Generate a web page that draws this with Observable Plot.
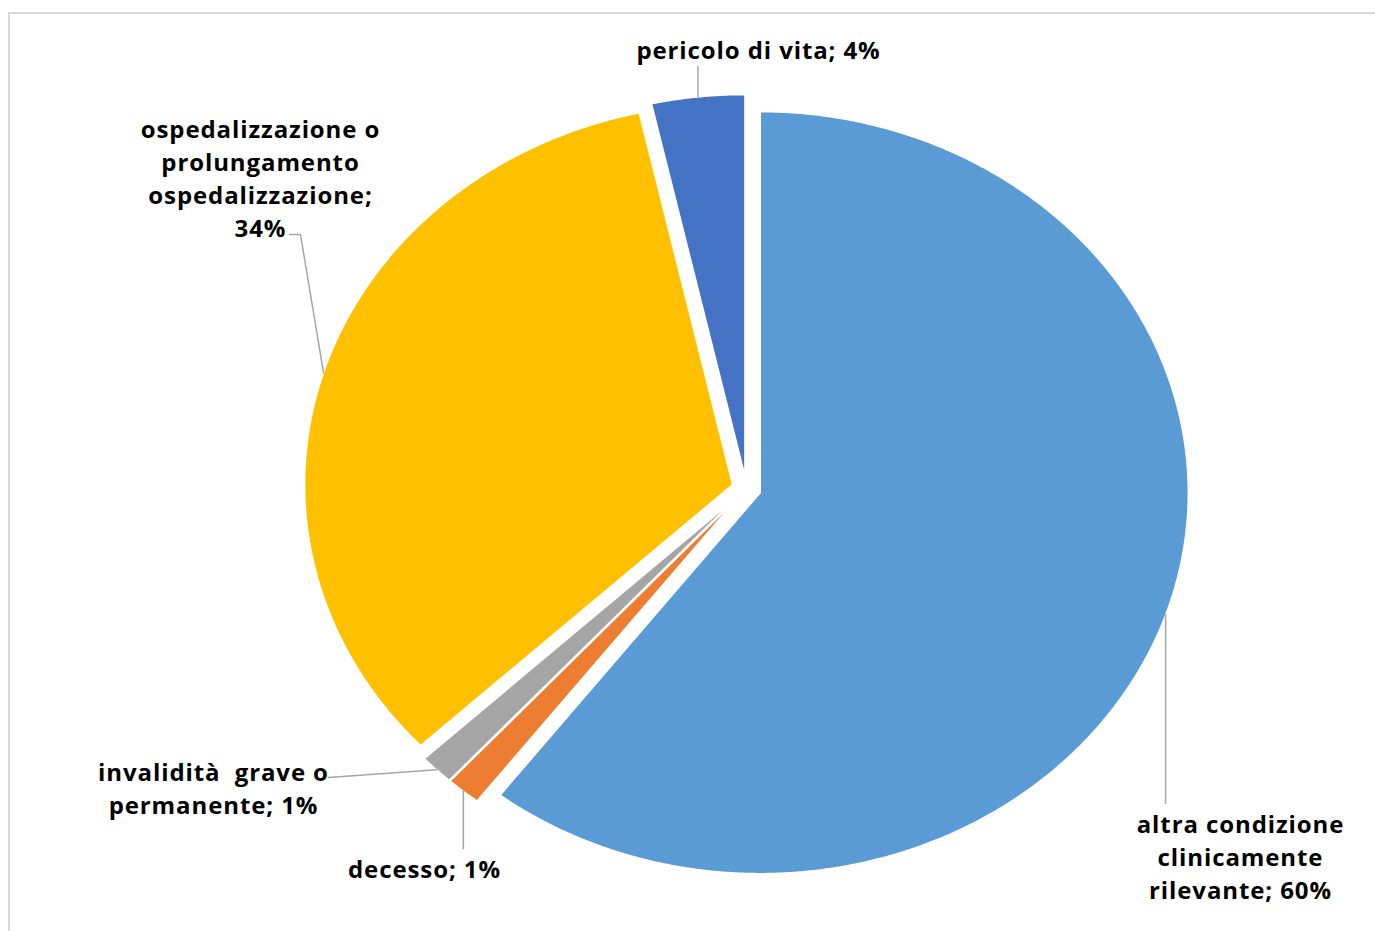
<!DOCTYPE html>
<html>
<head>
<meta charset="utf-8">
<script src="https://cdn.jsdelivr.net/npm/d3@7"></script>
<script src="https://cdn.jsdelivr.net/npm/@observablehq/plot@0.6"></script>
<style>
  html, body { margin: 0; padding: 0; background: #fff; }
  #wrap { position: relative; width: 1375px; height: 931px; overflow: hidden; }
  #border { position: absolute; left: 8px; top: 12px; width: 1400px; height: 960px; border-left: 2px solid #d9d9d9; border-top: 2px solid #d9d9d9; pointer-events: none; }
  #chart svg { display: block; }
</style>
</head>
<body>
<div id="wrap"><div id="chart"></div><div id="border"></div></div>
<script>
// ---- data ----
const categories = [
  "altra condizione clinicamente rilevante",
  "decesso",
  "invalidità grave o permanente",
  "ospedalizzazione o prolungamento ospedalizzazione",
  "pericolo di vita"
];
const values = [60.4, 1.3, 1.3, 33.5, 3.5];
const labelTexts = [
  "altra condizione\nclinicamente\nrilevante; 60%",
  "decesso; 1%",
  "invalidità  grave o\npermanente; 1%",
  "ospedalizzazione o\nprolungamento\nospedalizzazione;\n34%",
  "pericolo di vita; 4%"
];
const colors = ["#5B9BD5", "#ED7D31", "#A5A5A5", "#FFC000", "#4472C4"];

// ---- layout ----
const W = 1375, H = 931, CX = 746, CY = 488, RX = 428, RY = 381;
const EXPLODE = 0.034;
const ux = px => (px - CX) / RX;
const uy = py => (CY - py) / RY;
// label centre (pixels) and leader end points (pixels)
const labelLayout = [
  {cx: 1240, cy: 855, leader: [[1168, 803]], vertical: true},
  {cx: 424, cy: 867, leader: [[458, 848]], vertical: true},
  {cx: 213, cy: 786, leader: [[328, 777]]},
  {cx: 260, cy: 176, leader: [[300, 234], [289, 234]]},
  {cx: 758, cy: 48, leader: [[697, 66]], vertical: true}
];

const arcs = d3.pie().sort(null).startAngle(0).endAngle(2 * Math.PI)(values);
const slicePts = [];
const leaderPts = [];
const labels = [];
arcs.forEach((a, i) => {
  const mid = (a.startAngle + a.endAngle) / 2;
  const ox = EXPLODE * Math.sin(mid), oy = EXPLODE * Math.cos(mid);
  const pts = [{x: ox, y: oy}];
  const n = Math.max(4, Math.ceil((a.endAngle - a.startAngle) / 0.005));
  for (let k = 0; k <= n; k++) {
    const t = a.startAngle + (a.endAngle - a.startAngle) * k / n;
    pts.push({x: ox + Math.sin(t), y: oy + Math.cos(t)});
  }
  pts.forEach(p => { p.cat = categories[i]; });
  slicePts.push(pts);
  // leader
  const ax = ox + Math.sin(mid), ay = oy + Math.cos(mid);
  const L = labelLayout[i];
  const lp = [{x: ax, y: ay, cat: categories[i]}];
  L.leader.forEach(([px, py], j) => {
    lp.push({x: (L.vertical && j === 0) ? ax : ux(px), y: uy(py), cat: categories[i]});
  });
  leaderPts.push(...lp);
  labels.push({x: ux(L.cx), y: uy(L.cy), text: labelTexts[i]});
});

const marks = [];
slicePts.forEach((pts, i) => {
  marks.push(Plot.line(pts, {x: "x", y: "y", fill: colors[i], stroke: "white", strokeWidth: 1.5, curve: "linear-closed"}));
});
marks.push(Plot.line(leaderPts, {x: "x", y: "y", z: "cat", stroke: "#a6a6a6", strokeWidth: 1.5}));
marks.push(Plot.text(labels, {
  x: "x", y: "y", text: "text",
  fontSize: 24, fontWeight: "bold", fontFamily: "Open Sans",
  lineHeight: 1.375, fill: "#000", textAnchor: "middle", lineAnchor: "middle"
}));

const chart = Plot.plot({
  width: W, height: H,
  marginTop: 0, marginRight: 0, marginBottom: 0, marginLeft: 0,
  x: {domain: [ux(0), ux(W)], range: [0, W], axis: null},
  y: {domain: [uy(H), uy(0)], range: [H, 0], axis: null},
  style: {background: "transparent", overflow: "visible"},
  marks
});
chart.querySelectorAll("text").forEach(t => {
  t.setAttribute("xml:space", "preserve");
  t.style.letterSpacing = "0.9px";
});
chart.style.whiteSpace = "pre";
document.getElementById("chart").appendChild(chart);
</script>
</body>
</html>
